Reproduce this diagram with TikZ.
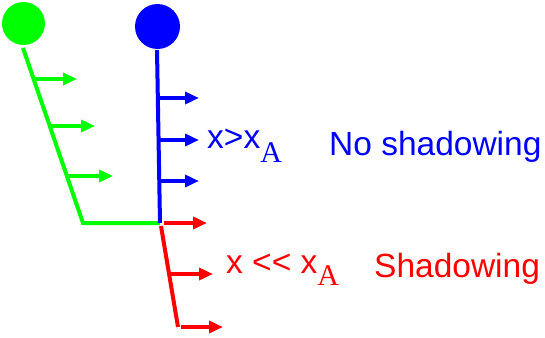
\documentclass[tikz,border=0pt]{standalone}
\usepackage{fontspec}
\setmainfont{Liberation Sans}
\newfontfamily\serifA{Liberation Serif}
\usetikzlibrary{arrows.meta}

\begin{document}
\begin{tikzpicture}[
    x=1pt, y=-1pt,
    ball/.style = {circle, inner sep=0pt, draw=none},
    wire/.style = {line width=4pt},
    arrow/.style = {-{Triangle[length=14pt, width=12pt]}, line width=4pt},
    lbl/.style = {anchor=base west, inner sep=0pt,
        font=\fontsize{33.5}{36}\selectfont}
]
\useasboundingbox (0,0) rectangle (545,337);

% Kugeln
\node[ball, fill=green, minimum size=43pt] (gball) at (23.5,23.5) {};
\node[ball, fill=blue,  minimum size=45pt] (bball) at (157.5,26.5) {};

% Knickpunkte
\coordinate (gtop)  at (23,48);
\coordinate (gknee) at (83,223);
\coordinate (join)  at (160,223);
\coordinate (btop)  at (157,50);
\coordinate (rtop)  at (161,226);
\coordinate (rend)  at (178,327);

% Linien
\draw[wire, green] (gtop) -- (gknee) -- (join);
\draw[wire, blue]  (btop) -- (join);
\draw[wire, red]   (rtop) -- (rend);

% Pfeile gruen
\foreach \i/\y/\xs/\xe in {1/79/34/77, 2/126/51/95, 3/176/68/113} {
    \coordinate (gs\i) at (\xs,\y);
    \coordinate (ge\i) at (\xe,\y);
    \draw[arrow, green] (gs\i) -- (ge\i);
}

% Pfeile blau
\foreach \i/\y in {1/98, 2/140, 3/181} {
    \coordinate (bs\i) at (159,\y);
    \coordinate (be\i) at (199,\y);
    \draw[arrow, blue] (bs\i) -- (be\i);
}

% Pfeile rot
\foreach \i/\y/\xs/\xe in {1/223/164/207, 2/274/170/213, 3/327/181/223} {
    \coordinate (rs\i) at (\xs,\y);
    \coordinate (re\i) at (\xe,\y);
    \draw[arrow, red] (rs\i) -- (re\i);
}

% Beschriftungen
\node[lbl, text=blue] (bcond) at (207,148)
    {x>x\raisebox{-14pt}{\fontsize{30}{32}\serifA A}};
\node[lbl, text=blue] (btext) at (329,155) {No shadowing};
\node[lbl, text=red]  (rcond) at (226,273)
    {x <\kern0pt< x\raisebox{-12pt}{\fontsize{30}{32}\serifA A}};
\node[lbl, text=red]  (rtext) at (374,277) {Shadowing};

\end{tikzpicture}
\end{document}
